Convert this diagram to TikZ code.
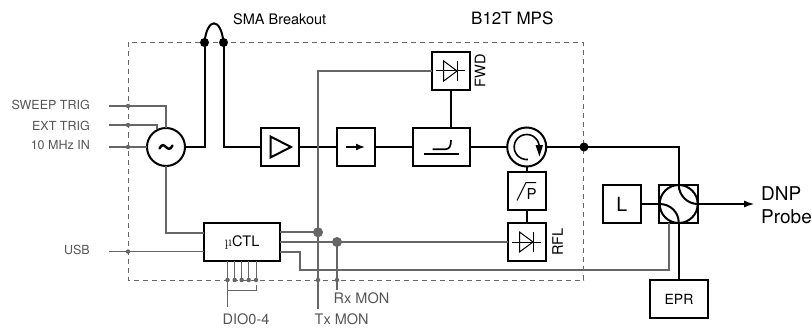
\documentclass[tikz,border=0pt]{standalone}
\usepackage{fontspec}
\setmainfont{TeX Gyre Heros}
\usetikzlibrary{arrows.meta}
\definecolor{gl}{HTML}{666666}
\definecolor{gt}{HTML}{555555}
\tikzset{
 blk/.style={draw=black,line width=2pt,fill=white,minimum width=38pt,minimum height=38pt,inner sep=0pt,anchor=center,outer sep=0pt},
 rf/.style={draw=black,line width=2pt},
 sig/.style={draw=gl,line width=2pt},
 glab/.style={text=gt,font=\fontsize{14.5}{16}\selectfont,inner sep=0pt},
 glabs/.style={text=gt,font=\fontsize{12.5}{14}\selectfont,inner sep=0pt},
 blab/.style={text=black,font=\fontsize{14.5}{16}\selectfont,inner sep=0pt},
 bbig/.style={text=black,font=\fontsize{19}{21}\selectfont,inner sep=0pt},
 sym/.style={draw=black,line width=1pt},
 jb/.style={circle,fill=black,minimum size=9pt,inner sep=0pt,outer sep=0pt},
 jg/.style={circle,fill=gl,minimum size=10pt,inner sep=0pt,outer sep=0pt},
 dg/.style={circle,fill=gl,minimum size=4.5pt,inner sep=0pt,outer sep=0pt},
 ring/.style={circle,draw=black,line width=2pt,fill=white,minimum size=38pt,inner sep=0pt,outer sep=0pt},
}
\begin{document}
\begin{tikzpicture}[x=1pt,y=-1pt]
\useasboundingbox (0,0) rectangle (812,329);
% enclosure
\draw[gl,line width=0.9pt,dash pattern=on 5pt off 4pt] (128,42.5) rectangle (583.5,280);
% named points
\coordinate (sw) at (109,106);
\coordinate (ex) at (109,125);
\coordinate (tm) at (109,147);
\coordinate (us) at (109,251.5);
\node[dg] (dsw) at (128,106) {};
\node[dg] (dex) at (128,125) {};
\node[dg] (dtm) at (128,147) {};
\node[dg] (dus) at (128,251.5) {};
\node[jb] (sa) at (204.5,42.5) {};
\node[jb] (sb) at (223.5,42.5) {};
\node[jb] (split) at (584,147) {};
% blocks
\node[ring,minimum size=38pt] (osc) at (166,147) {};
\node[blk] (amp) at (280,147) {};
\node[blk] (iso) at (355.5,147) {};
\node[blk,minimum width=57.5pt] (cpl) at (441.3,147) {};
\node[blk] (fwd) at (451,71) {};
\node[ring,minimum size=39pt] (cir) at (526.7,147) {};
\node[blk] (pbx) at (526.7,191) {};
\node[blk] (rfl) at (526.7,242) {};
\node[blk,minimum width=76pt,minimum height=38.5pt,font=\fontsize{14.5}{16}\selectfont] (ctl) at (242,242) {{\fontspec{Latin Modern Roman}µ}CTL};
\node[blk,font=\fontsize{19.5}{20}\selectfont] (ll) at (621.7,204) {L};
\node[blk,minimum width=57.5pt,font=\fontsize{14}{16}\selectfont] (epr) at (679,299) {EPR};
\node[blk,minimum width=38.5pt,minimum height=38.5pt] (hyb) at (678.7,204) {};
\coordinate (pr) at (755,204);
% tilde
\draw[black,line width=2.4pt,line cap=round] (159.5,148.5) .. controls (162,143.5) and (164,145) .. (166,147) .. controls (168,149) and (170,150.5) .. (172.5,145.5);
% RF paths
\draw[rf] (osc.east) -- (204.5,147) -- (sa.center);
\draw[rf] (sa.center) .. controls (207,17) and (221,17) .. (sb.center);
\draw[rf] (sb.center) -- (223.5,147) -- (amp.west);
\draw[rf] (amp.east) -- (iso.west);
\draw[rf] (iso.east) -- (cpl.west);
\draw[rf] (cpl.east) -- (cir.west);
\draw[rf] (fwd.south) -- (451,127.5);
\draw[rf] (cir.south) -- (pbx.north);
\draw[rf] (pbx.south) -- (rfl.north);
\draw[rf] (cir.east) -- (split.center) -- (679,147) -- (679,185);
\draw[rf] (ll.east) -- (660,204);
\draw[rf] (679,223) -- (epr.north);
\draw[rf,-{Latex[length=11pt,width=7pt]}] (698,204) -- (pr);
% hybrid symbol
\node[ring,fill=white,minimum size=38pt] (hc) at (678.7,204) {};
\draw[rf] (hc.north) .. controls (679,196) and (688,204) .. (hc.east);
\draw[rf] (hc.west) .. controls (670,204) and (679,212) .. (hc.south);
% circulator symbol
\draw[black,line width=1.6pt] plot[smooth,domain=85:358,samples=30] ({526.7+12.5*cos(\x)},{147+12.5*sin(\x)});
\fill[black] (535.5,145) -- (543,145) -- (539.5,156.5) -- cycle;
% amp and isolator symbols
\draw[black,line width=2pt,line join=miter] (270.5,136.5) -- (291,147) -- (270.5,157.5) -- cycle;
\draw[black,line width=1.6pt,-{Latex[length=9pt,width=7pt]}] (346,147) -- (365,147);
% coupler symbol
\draw[black,line width=1.7pt] (424,153.7) -- (458.7,153.7);
\draw[black,line width=1.7pt] (432.7,149.3) -- (445,149.3) .. controls (449.5,149.3) and (451,146) .. (451,140);
% diodes
\draw[sym] (443.7,61) -- (457,71) -- (443.7,81) -- cycle;
\draw[sym] (457,61) -- (457,81);
\draw[sym] (436,71) -- (465,71);
\draw[sym] (519.5,232) -- (533,242) -- (519.5,252) -- cycle;
\draw[sym] (533,232) -- (533,252);
\draw[sym] (512,242) -- (541,242);
% sqrt P
\draw[black,line width=1pt] (517,200.5) -- (526,182.5) -- (536,182.5);
\node[blab,font=\fontsize{15}{15}\selectfont] (ptxt) at (531.5,194.5) {P};
% control paths
\draw[sig] (sw) -- (166,106) -- (osc.north);
\draw[sig] (ex) -- (157,125) -- (157,129);
\draw[sig] (tm) -- (osc.west);
\draw[sig] (osc.south) -- (166,233) -- (204,233);
\draw[sig,line width=1.5pt] (us) -- (204,251.5);
\node[jg] (jt) at (318,232.3) {};
\node[jg] (jr) at (337,242) {};
\node[dg] (dt) at (318,280) {};
\node[dg] (dr) at (337,280) {};
\coordinate (txe) at (318,309);
\coordinate (rxe) at (337,290);
\draw[sig] (fwd.west) -- (318,71) -- (txe);
\draw[sig] (280,232.3) -- (jt.center);
\draw[sig] (280,242) -- (rfl.west);
\draw[sig] (jr.center) -- (rxe);
\draw[sig] (280,251.5) -- (299.5,251.5) -- (299.5,270.3) -- (669,270.3) -- (669,222.5);
% DIO
\foreach \n/\x in {a/227.5,b/234.7,c/241.7,d/248.7,e/256}{
 \node[dg] (dio\n) at (\x,280) {};
 \draw[gl,line width=0.9pt] (\x,261) -- (dio\n.center);
}
\coordinate (diol) at (227.5,307);
\draw[gl,line width=0.9pt] (dioa.center) -- (diol);
\draw[gl,line width=0.9pt] (227.5,290.5) -- (256,290.5) -- (256,285);
% labels
\node[glabs,anchor=east] (t1) at (90,105) {SWEEP TRIG};
\node[glabs,anchor=east] (t2) at (90,126) {EXT TRIG};
\node[glabs,anchor=east] (t3) at (90,145) {10 MHz IN};
\node[glabs,anchor=east] (t4) at (90,250) {USB};
\node[glab,anchor=west] (t5) at (222.5,319) {DIO0-4};
\node[glab,anchor=west] (t6) at (314.5,319.5) {Tx MON};
\node[glab,anchor=west] (t7) at (333.5,298.5) {Rx MON};
\node[blab,anchor=west] (t8) at (233,19) {SMA Breakout};
\node[blab,anchor=west,font=\fontsize{17}{19}\selectfont] (t9) at (471,18.5) {B12T MPS};
\node[blab,rotate=90] (t10) at (480,71) {FWD};
\node[blab,rotate=90] (t11) at (557.5,242) {RFL};
\node[bbig,anchor=west] (t12) at (761,194) {DNP};
\node[bbig,anchor=west] (t13) at (761,217) {Probe};
\end{tikzpicture}
\end{document}
